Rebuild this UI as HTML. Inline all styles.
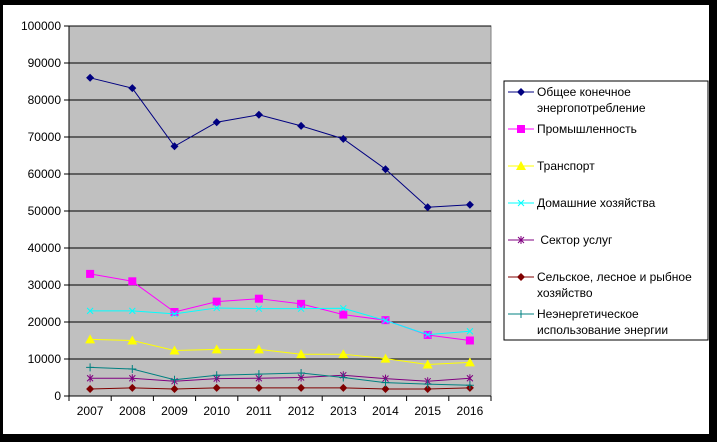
<!DOCTYPE html>
<html><head><meta charset="utf-8"><style>
body{margin:0;background:#000;}
svg{display:block;font-family:"Liberation Sans",Arial,sans-serif;}
text{white-space:pre;}
</style></head><body>
<svg width="717" height="442">
<rect x="3" y="5" width="706" height="429" fill="#fff"/>
<g id="plot"></g>
<g id="legend"></g>
</svg>
<script>
const years=["2007","2008","2009","2010","2011","2012","2013","2014","2015","2016"];
const yTicks=[0,10000,20000,30000,40000,50000,60000,70000,80000,90000,100000];
const total=[86000,83200,67500,74000,76000,73000,69500,61300,51000,51700];
const industry=[33000,31000,22700,25500,26300,24900,22000,20500,16500,15000];
const transport=[15300,15000,12300,12600,12600,11300,11300,10100,8500,9100];
const households=[23000,23000,22200,23800,23600,23600,23700,20400,16600,17500];
const services=[4800,4800,4000,4700,4800,5000,5600,4700,4000,4800];
const agriculture=[1900,2200,1900,2200,2200,2200,2200,1900,1900,2200];
const nonEnergy=[7750,7300,4400,5600,5900,6200,5000,3600,3200,2900];
const names=["Общее конечное|энергопотребление","Промышленность","Транспорт","Домашние хозяйства"," Сектор услуг","Сельское, лесное и рыбное|хозяйство","Неэнергетическое|использование энергии"];
const series=[total,industry,transport,households,services,agriculture,nonEnergy];
const colors=["#000080","#ff00ff","#ffff00","#00ffff","#800080","#800000","#008080"];
const markers=["diamond","square","triangle","x","star","diamond","plus"];
const L=69,T=26,R=491,B=396;
const NS="http://www.w3.org/2000/svg";
function X(i){return L+(R-L)/years.length*(i+0.5);}
function Y(v){return B-(B-T)*v/100000;}
function mk(tag,a,p){const e=document.createElementNS(NS,tag);for(const k in a)e.setAttribute(k,a[k]);p.appendChild(e);return e;}
const plot=document.getElementById('plot');
const bg=mk('rect',{x:L,y:T,width:R-L,height:B-T,fill:'#c0c0c0',stroke:'#808080'},plot);


yTicks.forEach(v=>{
 const g=mk('line',{x1:L-5,x2:v>0?R:L,y1:Y(v),y2:Y(v),stroke:'#000','stroke-width':1},plot);
 
 
 const t=mk('text',{x:L-8,y:Y(v)+4,'text-anchor':'end','font-size':12},plot);t.textContent=v;
 
 
});
mk('line',{x1:L,x2:L,y1:T,y2:B,stroke:'#000'},plot);
mk('line',{x1:L,x2:R,y1:B,y2:B,stroke:'#000'},plot);
for(let i=0;i<=years.length;i++){const x=L+(R-L)/years.length*i;mk('line',{x1:x,x2:x,y1:B,y2:B+5,stroke:'#000'},plot);}
years.forEach((y,i)=>{const t=mk('text',{x:X(i),y:B+19,'text-anchor':'middle','font-size':12},plot);t.textContent=y;
 
 });
function marker(p,type,x,y,c){
 if(type=="diamond")mk('polygon',{points:`${x},${y-4} ${x+4},${y} ${x},${y+4} ${x-4},${y}`,fill:c},p);
 else if(type=="square")mk('rect',{x:x-4,y:y-4,width:8,height:8,fill:c},p);
 else if(type=="triangle")mk('polygon',{points:`${x},${y-5} ${x+5},${y+4} ${x-5},${y+4}`,fill:c},p);
 else if(type=="x"){mk('path',{d:`M${x-3},${y-3}L${x+3},${y+3}M${x+3},${y-3}L${x-3},${y+3}`,stroke:c},p);}
 else if(type=="star"){mk('path',{d:`M${x-3},${y-3}L${x+3},${y+3}M${x+3},${y-3}L${x-3},${y+3}M${x},${y-4}L${x},${y+4}`,stroke:c},p);}
 else {mk('path',{d:`M${x-4},${y}L${x+4},${y}M${x},${y-4}L${x},${y+4}`,stroke:c},p);}
}
series.forEach((s,k)=>{
 const g=mk('g',{},plot);
 
 
 mk('polyline',{points:s.map((v,i)=>X(i)+','+Y(v)).join(' '),fill:'none',stroke:colors[k],'stroke-width':1},g);
 s.forEach((v,i)=>marker(g,markers[k],X(i),Y(v),colors[k]));
});
const lg=document.getElementById('legend');
mk('rect',{x:504,y:81,width:204,height:259,fill:'#fff',stroke:'#000'},lg);
const ly=[92,129,166,203,240,277,314];
names.forEach((n,k)=>{
 const y=ly[k];
 mk('line',{x1:508,x2:534,y1:y,y2:y,stroke:colors[k]},lg);
 marker(lg,markers[k],521,y,colors[k]);
 n.split('|').forEach((ln,j)=>{const t=mk('text',{x:537,y:y+4+j*16,'font-size':12},lg);t.textContent=ln;
  
  });
});
</script>
</body></html>
